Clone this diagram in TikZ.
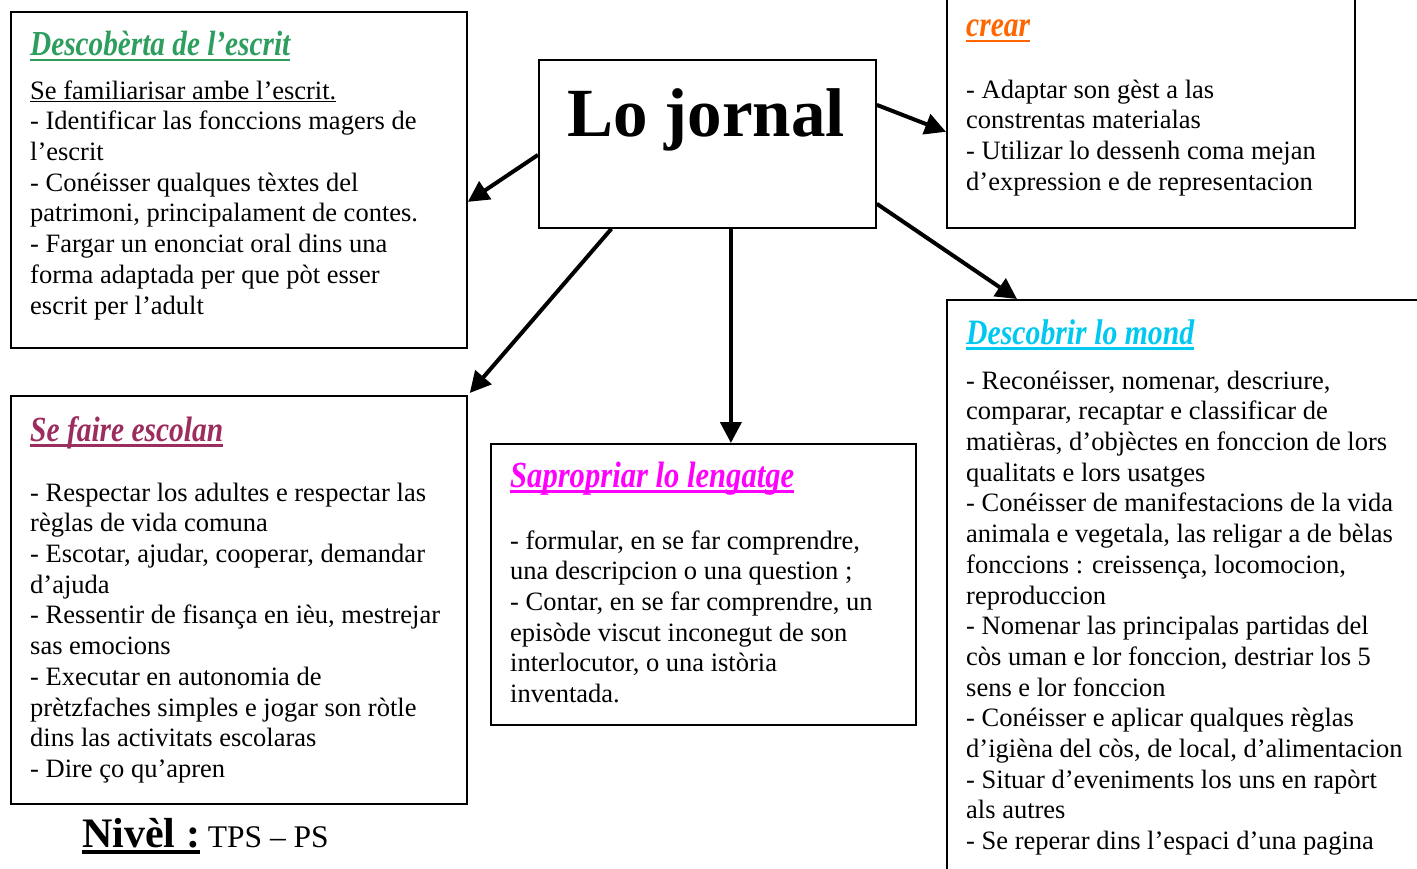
\documentclass[tikz,border=0pt]{standalone}
\usepackage{fontspec}
\setmainfont{Liberation Serif}
\usetikzlibrary{arrows.meta,calc}
\definecolor{cgreen}{RGB}{46,158,94}
\definecolor{cmaroon}{RGB}{155,45,95}
\definecolor{cmag}{RGB}{255,0,255}
\definecolor{ccyan}{RGB}{0,200,240}
\definecolor{corange}{RGB}{255,102,0}
\newsavebox\ulbox
\newcommand\myul[3]{\sbox\ulbox{#3}\rlap{\rule[-#2]{\wd\ulbox}{#1}}\usebox\ulbox}
\newcommand\ttl[3]{{\color{#1}\myul{2.8pt}{5.5pt}{\scalebox{1}[1.2]{\resizebox{#2}{!}{\bfseries\itshape #3}}}}}
\begin{document}
\begin{tikzpicture}[x=1pt,y=-1pt,
  box/.style={draw,line width=1.8pt,anchor=north west,inner sep=0pt},
  body/.style={anchor=north west,inner sep=0pt,align=left,font=\fontsize{26.5}{30.7}\selectfont},
  title/.style={anchor=base west,inner sep=0pt},
  arr/.style={line width=4pt,-{Triangle[length=21pt,width=21pt]}}]
\useasboundingbox (0,0) rectangle (1417,869);
\clip (0,0) rectangle (1417,869);
% boxes
\node[box,minimum width=456pt,minimum height=336pt] (b1) at (10,11) {};
\node[box,minimum width=337pt,minimum height=168pt] (jornal) at (538,59) {};
\node[box,minimum width=408pt,minimum height=257pt] (tr) at (946,-30) {};
\node[box,minimum width=500pt,minimum height=620pt] (mond) at (946,299) {};
\node[box,minimum width=456pt,minimum height=408pt] (esc) at (10,395) {};
\node[box,minimum width=425pt,minimum height=281pt] (leng) at (490,443) {};
% center title
\node[anchor=base,inner sep=0pt,font=\fontsize{69}{80}\selectfont\bfseries] (jt) at (706,137) {Lo jornal};
% box 1
\node[title] (t1) at (30,56) {\ttl{cgreen}{260pt}{Descobèrta de l’escrit}};
\node[body] (x1) at (30,77.5) {\strut\myul{1.2pt}{3pt}{Se familiarisar ambe l’escrit.}\\
- Identificar las fonccions magers de\\
l’escrit\\
- Conéisser qualques tèxtes del\\
patrimoni, principalament de contes.\\
- Fargar un enonciat oral dins una\\
forma adaptada per que pòt esser\\
escrit per l’adult};
% top right
\node[title] (t2) at (966,37) {\ttl{corange}{64pt}{crear}};
\node[body] (x2) at (966,76.5) {\strut - Adaptar son gèst a las\\
constrentas materialas\\
- Utilizar lo dessenh coma mejan\\
d’expression e de representacion};
% right
\node[title] (t3) at (966,344) {\ttl{ccyan}{228pt}{Descobrir lo mond}};
\node[body] (x3) at (966,367.5) {\strut - Reconéisser, nomenar, descriure,\\
comparar, recaptar e classificar de\\
matièras, d’objèctes en fonccion de lors\\
qualitats e lors usatges\\
- Conéisser de manifestacions de la vida\\
animala e vegetala, las religar a de bèlas\\
fonccions : creissença, locomocion,\\
reproduccion\\
- Nomenar las principalas partidas del\\
còs uman e lor fonccion, destriar los 5\\
sens e lor fonccion\\
- Conéisser e aplicar qualques règlas\\
d’igièna del còs, de local, d’alimentacion\\
- Situar d’eveniments los uns en rapòrt\\
als autres\\
- Se reperar dins l’espaci d’una pagina};
% se faire escolan
\node[title] (t4) at (30,441) {\ttl{cmaroon}{193pt}{Se faire escolan}};
\node[body] (x4) at (30,479.5) {\strut - Respectar los adultes e respectar las\\
règlas de vida comuna\\
- Escotar, ajudar, cooperar, demandar\\
d’ajuda\\
- Ressentir de fisança en ièu, mestrejar\\
sas emocions\\
- Executar en autonomia de\\
prètzfaches simples e jogar son ròtle\\
dins las activitats escolaras\\
- Dire ço qu’apren};
% lengatge
\node[title] (t5) at (510,487) {\ttl{cmag}{284pt}{Sapropriar lo lengatge}};
\node[body] (x5) at (510,527.5) {\strut - formular, en se far comprendre,\\
una descripcion o una question ;\\
- Contar, en se far comprendre, un\\
episòde viscut inconegut de son\\
interlocutor, o una istòria\\
inventada.};
% nivel
\node[title] (niv) at (82,847) {\fontsize{42}{48}\selectfont\bfseries\myul{4pt}{7.3pt}{Nivèl :}\fontsize{31.5}{36}\selectfont\mdseries\ TPS – PS};
% arrows
\draw[arr] ([yshift=-11pt]jornal.west) -- ([yshift=-22pt]b1.east);
\draw[arr] ([xshift=-96pt]jornal.south) -- ([xshift=2pt,yshift=2pt]esc.north east);
\draw[arr] ([xshift=23.5pt]jornal.south) -- ([xshift=23.5pt]jornal.south |- leng.north);
\draw[arr] ([yshift=39pt]jornal.east) -- ([yshift=97pt]tr.south west);
\draw[arr] ([yshift=25pt]jornal.south east) -- ([xshift=71pt]mond.north west);
\end{tikzpicture}
\end{document}
